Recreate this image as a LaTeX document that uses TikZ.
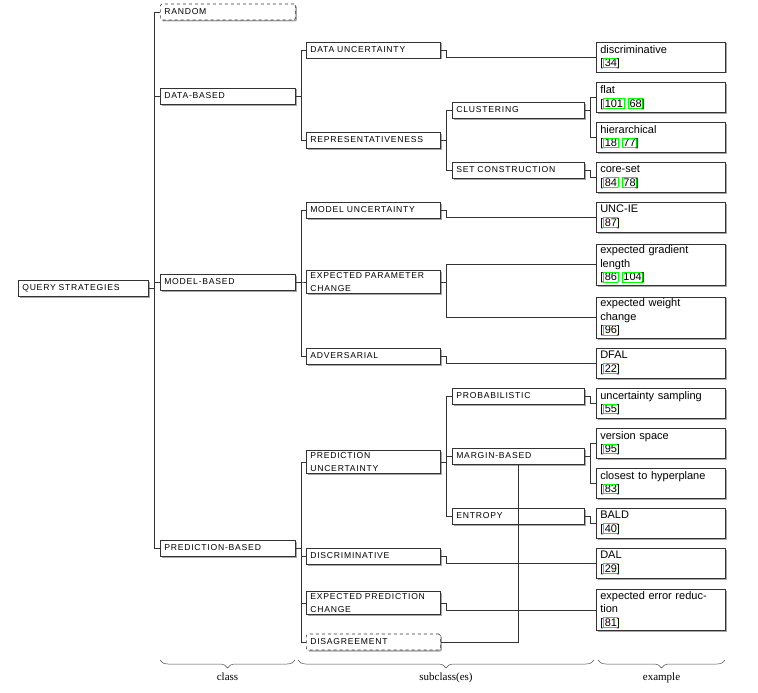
\documentclass[tikz,border=0pt]{standalone}
\usepackage{fontspec}
\setmainfont{Liberation Serif}
\newfontfamily\capsf[LetterSpace=9]{Liberation Sans}
\newfontfamily\exsf{Liberation Sans}
\usetikzlibrary{shadows,decorations.pathreplacing}
\newcommand{\cb}[1]{{\setlength{\fboxsep}{0.6pt}\setlength{\fboxrule}{0.8pt}\fcolorbox{green}{white}{#1}}}
\begin{document}
\begin{tikzpicture}[x=1pt,y=-1pt,
  base/.style={draw=black!80,fill=white,line width=0.6pt,inner xsep=4pt,inner ysep=2pt,anchor=west,align=left,
     drop shadow={shadow xshift=1.5pt,shadow yshift=-1.5pt,fill=black!35,opacity=1}},
  capbox/.style={base,font=\capsf\fontsize{8.6}{13}\selectfont,minimum height=16pt},
  c1/.style={capbox,minimum width=135pt,text width=127pt},
  c2/.style={capbox,minimum width=134pt,text width=126pt},
  c3/.style={capbox,minimum width=132pt,text width=124pt},
  ex/.style={base,font=\exsf\fontsize{11}{13.5}\selectfont,minimum width=129pt,text width=121pt,minimum height=30pt},
  dsh/.style={dashed,rounded corners=1.5pt},
  ln/.style={draw=black!80,line width=0.6pt},
  br/.style={decorate,decoration={brace,mirror,amplitude=8pt},draw=black!70,line width=0.5pt}]
\useasboundingbox (0,0) rectangle (758,693);
% root
\node[capbox,minimum width=130pt,text width=122pt] (q) at (18,288) {QUERY STRATEGIES};
% class
\node[c1,dsh] (rnd) at (160,12) {RANDOM};
\node[c1] (db) at (160,96) {DATA-BASED};
\node[c1] (mb) at (160,282) {MODEL-BASED};
\node[c1] (pb) at (160,548) {PREDICTION-BASED};
% subclass
\node[c2] (du) at (306,50) {DATA UNCERTAINTY};
\node[c2] (rep) at (306,140) {REPRESENTATIVENESS};
\node[c2] (mu) at (306,210) {MODEL UNCERTAINTY};
\node[c2] (epc) at (306,282) {EXPECTED PARAMETER\\CHANGE};
\node[c2] (adv) at (306,356) {ADVERSARIAL};
\node[c2] (pu) at (306,462) {PREDICTION\\UNCERTAINTY};
\node[c2] (dis) at (306,556) {DISCRIMINATIVE};
\node[c2] (eprc) at (306,603) {EXPECTED PREDICTION\\CHANGE};
\node[c2,dsh] (dag) at (306,642) {DISAGREEMENT};
% subsub
\node[c3] (clu) at (452,110) {CLUSTERING};
\node[c3] (sc) at (452,170) {SET CONSTRUCTION};
\node[c3] (prob) at (452,396) {PROBABILISTIC};
\node[c3] (mar) at (452,456) {MARGIN-BASED};
\node[c3] (ent) at (452,516) {ENTROPY};
% examples
\node[ex] (e1) at (596,57) {discriminative\\{[}\cb{34}\kern-1.5pt]};
\node[ex] (e2) at (596,97.5) {flat\\{[}\cb{101} \cb{68}\kern-1.5pt]};
\node[ex] (e3) at (596,137) {hierarchical\\{[}\cb{18} \cb{77}\kern-1.5pt]};
\node[ex] (e4) at (596,177) {core-set\\{[}\cb{84} \cb{78}\kern-1.5pt]};
\node[ex] (e5) at (596,217) {UNC-IE\\{[}\cb{87}\kern-1.5pt]};
\node[ex] (e6) at (596,264.5) {expected gradient\\length\\{[}\cb{86} \cb{104}\kern-1.5pt]};
\node[ex] (e7) at (596,317.5) {expected weight\\change\\{[}\cb{96}\kern-1.5pt]};
\node[ex] (e8) at (596,363) {DFAL\\{[}\cb{22}\kern-1.5pt]};
\node[ex] (e9) at (596,403) {uncertainty sampling\\{[}\cb{55}\kern-1.5pt]};
\node[ex] (e10) at (596,443) {version space\\{[}\cb{95}\kern-1.5pt]};
\node[ex] (e11) at (596,483) {closest to hyperplane\\{[}\cb{83}\kern-1.5pt]};
\node[ex] (e12) at (596,523) {BALD\\{[}\cb{40}\kern-1.5pt]};
\node[ex] (e13) at (596,563) {DAL\\{[}\cb{29}\kern-1.5pt]};
\node[ex] (e14) at (596,610) {expected error reduc-\\tion\\{[}\cb{81}\kern-1.5pt]};
% connectors
\foreach \p/\c in {q/rnd,q/db,q/mb,q/pb,
  db/du,db/rep,mb/mu,mb/epc,mb/adv,pb/pu,pb/dis,pb/eprc,pb/dag,
  rep/clu,rep/sc,pu/prob,pu/mar,pu/ent,
  du/e1,clu/e2,clu/e3,sc/e4,mu/e5,epc/e6,epc/e7,adv/e8,prob/e9,mar/e10,mar/e11,ent/e12,dis/e13,eprc/e14}
  \draw[ln] (\p.east) -- ++(6,0) |- (\c.west);
\coordinate (mj) at (518,464);
\draw[ln] (dag.east) -| (mj);
% braces
\draw[br] (160,660) -- (295,660) node[midway,below=9pt,font=\fontsize{11}{13}\selectfont] {class};
\draw[br] (298,660) -- (594,660) node[midway,below=9pt,font=\fontsize{11}{13}\selectfont] {subclass(es)};
\draw[br] (598,660) -- (725,660) node[midway,below=9pt,font=\fontsize{11}{13}\selectfont] {example};
\end{tikzpicture}
\end{document}
